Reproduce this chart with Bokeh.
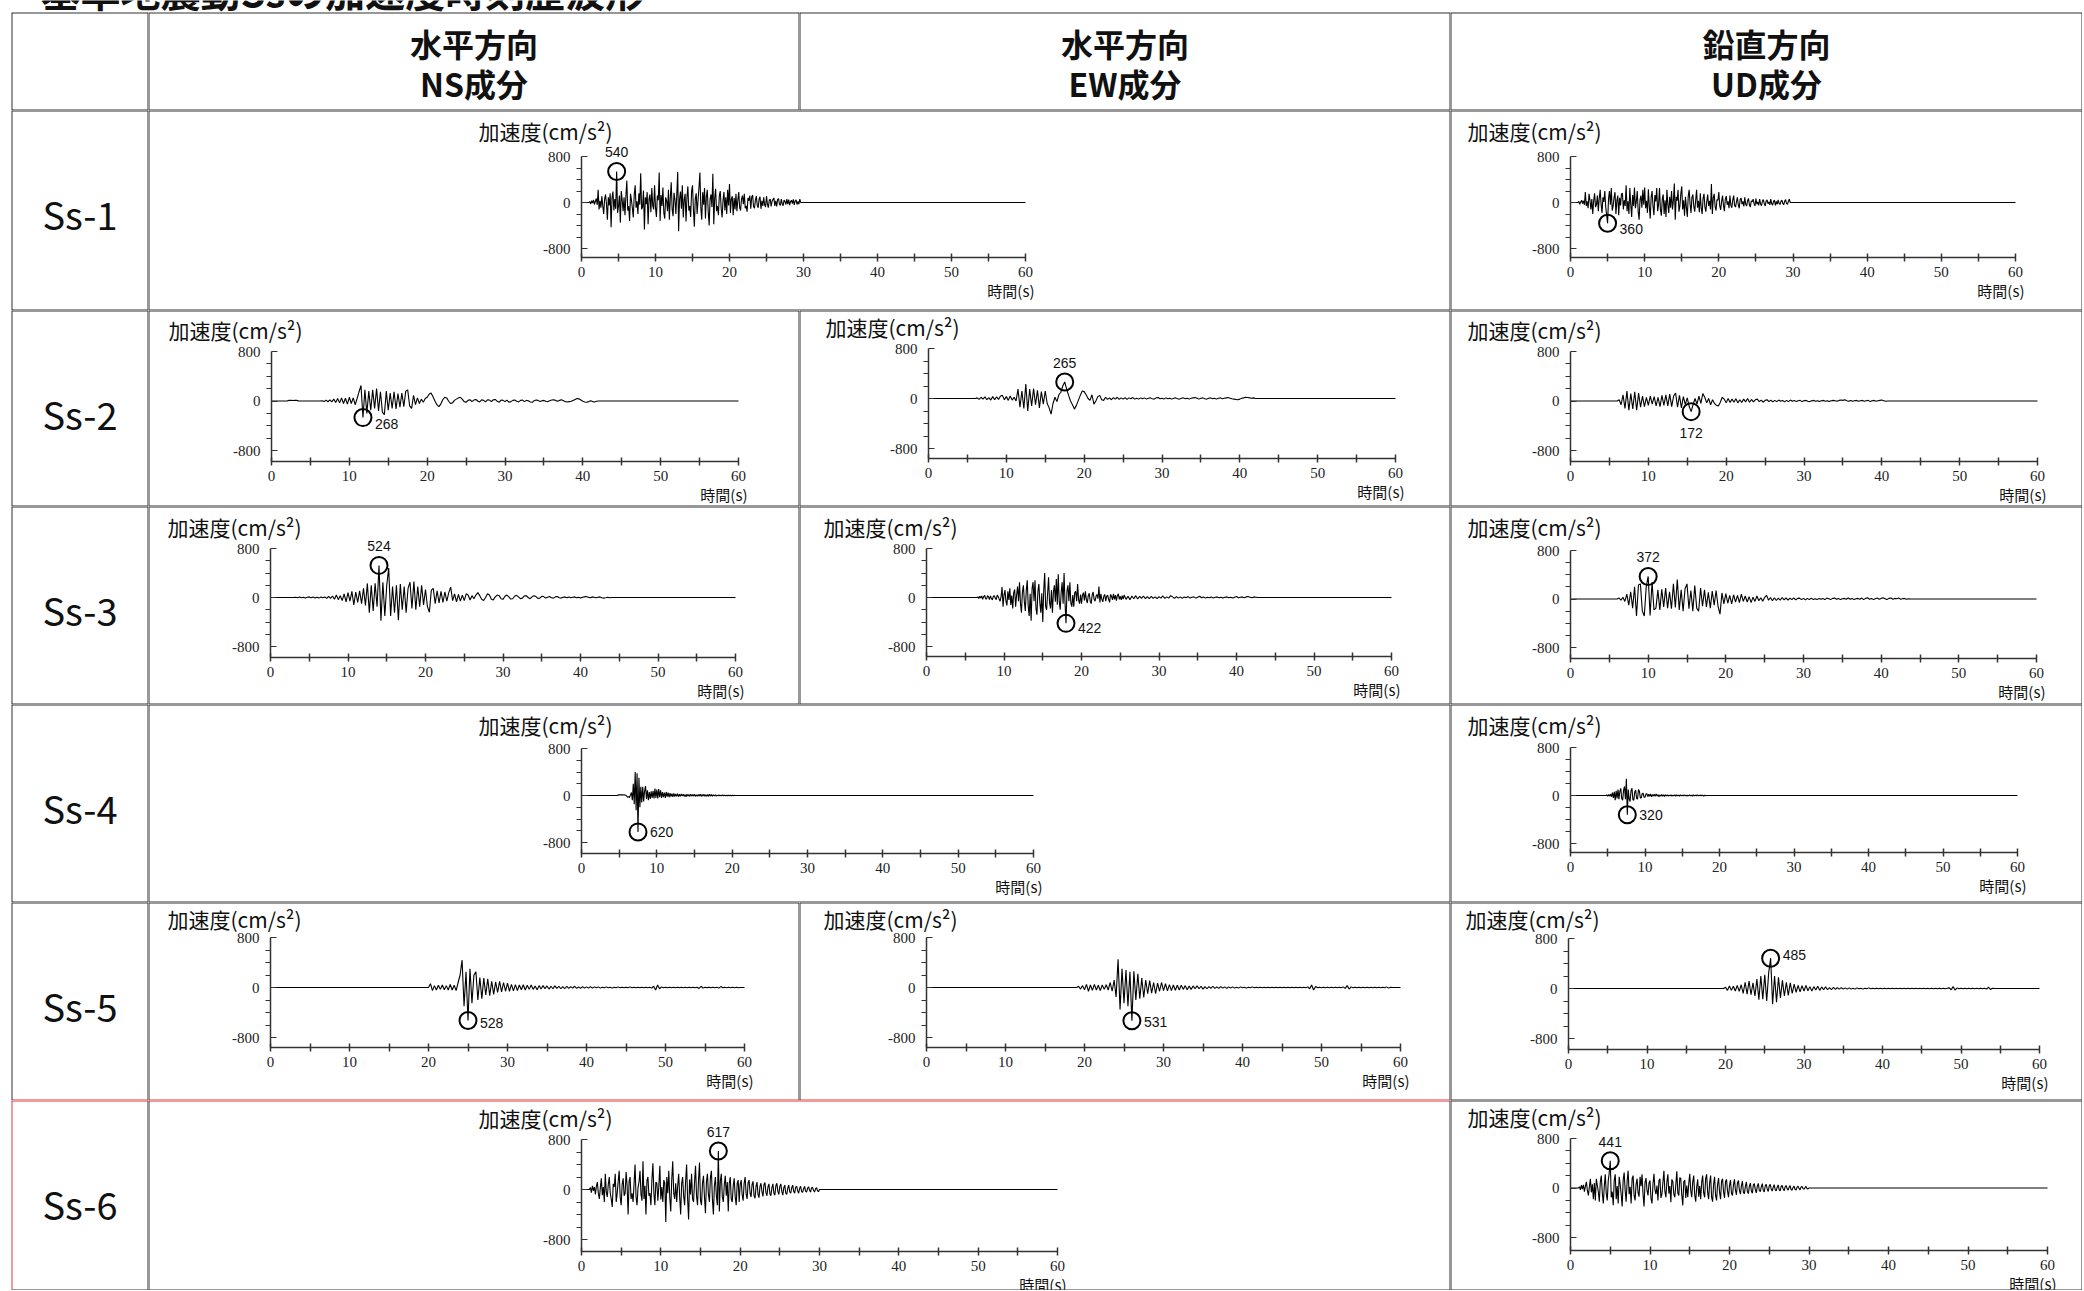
from bokeh.plotting import figure
from bokeh.models import Range1d, LinearAxis, FixedTicker, Span, Row, Column
from bokeh.core.properties import value
from bokeh.embed import file_html
from bokeh.resources import INLINE

# ---------------------------------------------------------------- data
TITLE = "基準地震動Ssの加速度時刻歴波形"
COL_HEAD_1 = ["水平方向", "水平方向", "鉛直方向"]
COL_HEAD_2 = ["NS成分", "EW成分", "UD成分"]
ROW_LABELS = ["Ss-1", "Ss-2", "Ss-3", "Ss-4", "Ss-5", "Ss-6"]
Y_LABEL = "加速度(cm/s²)"
X_LABEL = "時間(s)"
X_TICKS = [0, 10, 20, 30, 40, 50, 60]
X_MINOR = [5, 15, 25, 35, 45, 55]
Y_TICKS = [-800, 0, 800]
Y_MINOR = [-600, -400, -200, 200, 400, 600]

# acceleration samples (cm/s^2); start time t0 and step dt in seconds
ss1_h_t0, ss1_h_dt = 1.0, 0.125
ss1_h = [0, 15, -25, 30, -10, 45, -35, 20,
         70, -40, 220, -120, 30, -90, 110, -60,
         -200, 60, 140, -30, -300, 90, -50, 160,
         -430, 80, 190, -140, 60, -110, 540, -180,
         -60, 120, -350, 200, 40, -150, 90, -220,
         110, 380, -140, -60, -320, 150, 40, -100,
         -260, 130, 300, -90, 20, -200, 160, -40,
         510, -120, -80, 210, -470, 90, -30, 180,
         -380, 60, 140, -170, 250, -50, -120, 300,
         -90, -250, 120, 40, 520, -320, 130, -60,
         260, -180, -280, 90, 30, -150, 220, -300,
         80, 350, -120, -240, 170, 50, -200, 130,
         530, -500, 60, 190, -110, 300, -260, 40,
         150, -330, 90, 280, -140, -60, -250, 190,
         300, -120, -420, 70, 160, -200, 40, 260,
         520, -90, -300, 180, -40, 250, -280, 100,
         220, -160, -400, 60, 140, -80, 500, -380,
         80, 240, -150, -60, -220, 120, 200, -100,
         -260, 40, 180, -140, 90, -200, 220, -50,
         320, -180, 60, 110, -220, 80, -120, 150,
         -150, 40, 180, -90, -140, 60, 120, -30,
         150, -100, -60, -160, 80, 30, 120, -110,
         90, 130, -70, -100, 40, 110, -50, -90,
         60, 100, -110, 30, -60, 90, -40, -80,
         110, -30, -90, 40, 60, -70, 20, 50,
         80, -60, 30, -70, 50, 70, -30, -50,
         60, -20, -55, 40, 20, -35, 60, -30,
         50, -45, 15, 40, -20, 55, -40, 25,
         45, -35, 20, -30, 60, 0]
ss1_h_peak = (4.75, 540)

ss1_ud_t0, ss1_ud_dt = 1.0, 0.125
ss1_ud = [0, 20, -30, 10, 40, -20, 30, -40,
          180, -60, 20, -100, 150, 40, -120, 60,
          -200, 30, 160, -80, -40, 120, -150, 70,
          220, -30, -180, 90, 10, 200, -80, -220,
          -360, 60, 200, -40, 250, -140, -60, 90,
          180, -200, 30, 120, -220, 80, -50, 150,
          160, -120, 40, -60, 300, -150, 20, -200,
          250, -40, -250, 130, -60, 260, -100, 20,
          200, -160, -300, 50, 120, -90, 220, -40,
          260, -100, 30, -180, 230, -60, -280, 90,
          200, -60, -220, 130, 20, 250, -150, -40,
          250, -120, -230, 60, 140, -200, 40, -250,
          220, -40, -180, 100, -90, 200, -120, 30,
          330, -300, 100, 30, 220, -160, -60, 150,
          280, -120, 40, -230, 100, -80, -250, 110,
          220, -30, -180, 90, 140, -70, -160, 40,
          220, -90, 30, -170, 160, -100, -200, 70,
          150, -80, -160, 20, 140, -60, 30, -120,
          320, -200, 80, 150, -70, -140, 50, 40,
          180, -60, -130, 20, 120, -50, -150, 60,
          110, -40, 20, -100, 120, -50, -90, 40,
          120, -50, -80, 10, 90, -40, -100, 50,
          80, -30, 20, -70, 90, -30, -60, 30,
          70, -40, -80, 30, 10, 60, -20, -60,
          70, -30, 10, -50, 60, -25, -55, 25,
          50, -20, -60, 25, 45, -20, 10, -40,
          60, -20, -45, 20, 40, -50, 20, -30,
          45, -15, -35, 20, 40, -15, -40, 20,
          50, -15, -30, 20, 60, 0]
ss1_ud_peak = (5.0, -360)

ss2_ns_t0, ss2_ns_dt = 2.0, 0.25
ss2_ns = [0, 10, 12, 8, 12, 10, 0, 0, 0, 0, 0, 0, 0, 0, 0, 0, 0, 0, 5, -10,
          15, -12, 20, -15, 30, -25, 40, -30, 50, -40, 45, -50, 60, -40, 50, -60, 40, 150, 250, -268,
          180, -200, 160, -150, 180, -120, 200, -160, 150, -180, -220, 160, -150, 130, -120, 150, -130, 120, -100, 130,
          -90, 160, 180, -80, -120, 90, -60, 50, -40, 30, -20, 40, 60, 110, 130, 70, 0, -60, -90, -50,
          20, 60, 50, 0, -40, -30, 10, 30, 50, 60, 30, -10, -20, 10, 20, -10, 15, 25, 0, -15,
          20, 10, -15, 20, 15, -10, 20, 25, -5, -20, 15, 10, -10, 15, -20, -10, 10, 15, -5, -15,
          10, 15, -10, 10, 5, -15, -20, 5, 15, 10, -10, 5, 10, -5, -10, 5, 15, 20, 10, -5,
          10, 20, 5, -10, -15, -10, -5, 10, 25, 40, 35, 15, -5, -15, -20, -10, 5, -10, -15, -5, 0]
ss2_ns_peak = (11.75, -268)

ss2_ew_t0, ss2_ew_dt = 6.0, 0.25
ss2_ew = [0, 10, -15, 20, -10, 25, -20, 15, -25, 30, -20, 25, -15, 40, 50, -20, 30, -30, 40, -25,
          20, -40, 150, -140, 120, -160, 230, -200, 150, -120, 160, -100, 130, -150, 110, -90, 120, -80, -150, -250,
          -80, 20, -50, 60, 100, 200, 265, 150, 50, -40, -100, -170, -110, -30, 50, 120, 110, 60, 0, -30,
          60, -90, -40, 30, 50, -20, -30, 20, -15, 10, -20, 15, -10, 20, -15, 10, -10, 15, -15, 10,
          -5, 15, -10, 5, -10, 10, -5, 10, -10, 5, 10, -5, -10, 10, 15, -5, 5, -10, 10, -5,
          5, -10, 5, 10, -5, -10, 5, 10, -5, 5, -10, 5, 10, 15, 5, -10, 5, 10, -5, -10,
          5, 10, -5, 5, -10, 5, 10, -5, 5, 10, 15, 5, -5, -10, -15, -20, -10, 5, 10, 20,
          15, 10, 5, 10, 0]
ss2_ew_peak = (17.5, 265)

ss2_ud_t0, ss2_ud_dt = 6.0, 0.25
ss2_ud = [0, 20, -60, 100, -120, 160, -150, 120, -130, 150, -150, 130, -100, 80, -90, 60, -70, 80, -50, 70,
          -80, 60, -90, 90, -70, 100, -80, 110, -90, 80, 130, -100, 90, -110, 70, -60, 50, -90, -172, -60,
          40, -50, 80, -40, 120, 60, -30, 40, -60, 20, -40, -70, -80, -20, 60, 30, -30, 40, -25, 30,
          -20, 35, -30, 20, -25, 30, -15, 40, -20, 25, -15, 20, 30, -10, 15, -20, 10, 20, -10, 15,
          -15, 10, -10, 15, -5, 10, -15, 10, -10, 15, -5, 10, -10, 5, 10, -10, 5, 10, -5, -10,
          5, 10, -5, 5, -10, 5, 10, -5, 5, -10, 5, 10, 5, -5, 10, 15, 10, 20, 5, -5,
          10, -5, 5, 10, -5, 5, 10, -5, 5, 10, -10, 5, 10, -5, 5, 10, 15, 5, -5, 0]
ss2_ud_peak = (15.5, -172)

ss3_ns_t0, ss3_ns_dt = 3.0, 0.25
ss3_ns = [0, 5, -5, 8, -5, 5, -8, 5, 10, -5, 8, -8, 5, -10, 8, -5, 10, -15, 20, -15,
          25, -30, 40, -35, 30, -50, 60, -70, 80, -60, 100, -120, 90, -80, 110, -100, 150, -130, 230, -250,
          200, -220, 230, -150, 524, -380, 250, -300, 200, 480, -300, 180, -250, 200, -370, 220, -200, 180, -250, 150,
          250, -180, 260, -200, 180, -150, 200, -120, 130, -150, -240, 120, 150, -100, 110, -90, 100, -80, 90, -60,
          80, 170, -50, 60, -70, 50, -60, 40, -50, 60, 40, -40, 30, -20, 40, 80, 30, -30, -50, 0,
          60, 40, -30, -40, 10, 40, 30, -20, -30, 20, 40, 10, -25, -20, 20, 35, 10, -20, -10, 25,
          30, 0, -20, 10, 30, 15, -15, -10, 20, 15, -10, 5, 15, -5, -10, 10, 15, -5, -10, 5,
          10, -5, 10, -5, 5, 10, -5, 5, -10, 5, 10, 15, 5, -5, 10, 5, -5, 5, 10, -5,
          -10, -5, 5, -5, 0]
ss3_ns_peak = (14.0, 524)

# Ss-3 EW: strong part sampled at 0.125 s, coda at 0.25 s
ss3_ew_t0, ss3_ew_dt = 6.5, 0.125
ss3_ew = [0, 10, -15, 20, -10, 25, -30, 15,
          35, -20, -25, 30, 10, -35, 25, -15,
          -40, 20, 30, -10, -35, 40, 15, -25,
          -60, 20, 170, -150, 40, 120, -60, -130,
          100, -40, 150, -120, 30, -180, 80, 130,
          -150, 40, 180, -60, 250, -100, -250, 90,
          200, -70, -220, 120, 280, -140, -300, 60,
          -380, 150, 250, -60, 280, -180, -280, 100,
          220, -90, -250, 70, -400, 120, 400, -150,
          -200, 60, 330, -80, -180, 120, -250, 90,
          200, -70, 300, -120, 380, -60, -200, 80,
          250, -100, 400, -90, -422, 100, 200, -60,
          250, -90, -150, 40, -150, 80, 100, -60,
          220, -40, -100, 50, -100, 40, 80, -50,
          100, -30, -90, 30, 70, -60, -100, 40,
          90, -30, -60, 20, 50, -20, 180, -80,
          60, -30, -70, 20, 50, -60, 20, 40,
          -30, -80, 50, 20, -40, 60, -30, 40,
          -50, 30, 60, -30, 20, -40, 30, -25]
ss3_ew_coda_t0, ss3_ew_coda_dt = 25.5, 0.25
ss3_ew_coda = [40, -30, 20, -35, 25, -20, 30, -25, 20, -15, 25, -20, 15, -20, 20, -15, 10, -20, 15, -10,
               25, -15, 10, -10, 30, 10, -15, 15, -10, 10, -15, 10, -5, 15, -10, 5, 10, -10, 5, 20,
               -5, 10, -10, 5, -5, 10, -10, 5, 10, -5, 5, -10, 5, 10, -5, 5, -10, 5, 15, -5,
               5, 10, -5, 10, 15, 5, -5, 10, 5, 0]
ss3_ew_peak = (18.0, -422)

ss3_ud_t0, ss3_ud_dt = 6.0, 0.25
ss3_ud = [0, 15, -20, 30, -40, 80, -100, 120, -150, 200, -280, 230, 250, -200, -280, 200, 372, -270, 280, -180,
          -150, 150, -180, 160, -130, 180, -150, 120, -160, 250, -140, 320, -180, 150, -200, 170, 250, -160, 140, -200,
          220, -150, -200, 180, -120, 150, -130, 110, -150, 130, -100, 140, -120, -250, 100, -80, 90, -70, 60, -80,
          70, -50, 60, -60, 80, -40, 50, -50, 40, -60, 30, -40, 50, -30, 20, -35, 25, 60, -20, 25,
          -30, 20, -25, 15, -20, 25, -15, 20, -20, 15, -10, 20, -15, 10, 15, -10, 10, -15, 10, -10,
          15, -10, 5, -10, 10, -5, 10, -10, 15, 5, -10, 10, 15, -5, 10, -10, 5, 10, -5, 15,
          -5, 10, -10, 5, 10, -5, 15, -10, 10, 20, -5, 10, -10, 5, 15, -5, 10, 20, 5, -10,
          10, 15, -5, 10, 5, 15, -5, 5, 10, -5, 5, 0]
ss3_ud_peak = (10.0, 372)

ss4_h_t0, ss4_h_dt = 4.75, 0.125
ss4_h = [0, 10, 12, 10, 12, 10, 12, 8, 10, 5, -10, -30, -20, -35, 10, 50, -80, 200, -150, 400,
         -250, 380, -620, 300, -200, 150, -120, 150, -100, 80, 160, -60, 90, -80, 60, -60, 70, -40, 80, -50,
         120, -40, 100, -50, 110, -30, 90, -40, 60, -30, 50, -40, 60, -20, 50, -30, 40, -20, 30, -25,
         35, -20, 25, -15, 30, -20, 20, -15, 25, -10, 20, -15, 15, -20, 20, -10, 15, -15, 20, -10,
         15, -10, 20, -15, 10, -10, 15, -10, 20, -15, 15, -10, 20, -15, 10, -10, 15, -15, 20, -10,
         15, -10, 10, -5, 10, -10, 5, -5, 10, -5, 5, -5, 10, -5, 5, -5, 5, -5, 5, -5,
         5, -5, 5, -5, 5, 0, 0]
ss4_h_peak = (7.5, -620)

ss4_ud_t0, ss4_ud_dt = 4.75, 0.125
ss4_ud = [0, 10, -10, 15, -10, 20, -20, 50, -40, 60, -80, 80, -50, 100, -60, 70, 120, -50, -80, 90,
          150, -60, 280, -320, 100, -60, -100, 80, 120, -70, -80, 60, 90, -50, -60, 100, 70, -40, -40, 30,
          40, -30, -30, 25, 30, -20, 20, -15, 25, -20, 15, -10, 20, -15, 25, -10, 15, -20, 10, -10,
          15, -10, 10, -15, 10, -5, 10, -10, 5, -5, 10, -10, 5, -5, 10, -10, 10, -5, 5, -10,
          10, -5, 5, -5, 10, -5, 5, -10, 5, -5, 10, -5, 5, -10, 10, -5, 5, -5, 10, -5,
          5, -5, 10, -5, 5, -10, 5, -5, 0]
ss4_ud_peak = (7.625, -320)

ss5_ns_t0, ss5_ns_dt = 20.0, 0.25
ss5_ns = [0, 60, -50, 30, -40, 35, -30, 40, -35, 30, -40, 50, -40, 35, -50, 80, 200, 440, -300, 250,
          -528, 300, -250, 200, 250, -200, 160, -180, 150, -120, 140, -130, 100, -110, 90, -80, 100, -70, 80, -60,
          70, -60, 50, -55, 45, -50, 40, -35, 45, -40, 35, -30, 40, -30, 25, -35, 30, -25, 30, -20,
          25, -25, 20, -20, 25, -15, 20, -20, 15, -20, 20, -15, 15, -10, 20, -15, 10, -15, 15, -10,
          10, -10, 15, -10, 10, -5, 10, -10, 5, -5, 10, -5, 5, -10, 5, -5, 10, -5, 5, -5,
          5, -5, 10, -5, 5, -5, 5, -5, 5, -5, 5, -5, 5, -10, 20, -40, 40, -20, 10, -5,
          5, -5, 5, -5, 5, -5, 5, -5, 5, -5, 5, -5, 5, -5, 5, -5, 5, -15, 20, -10,
          5, -5, 5, -5, 5, -5, 5, -10, 15, -5, 5, -5, 5, -5, 5, -5, 5, -5, 0]
ss5_ns_peak = (25.0, -528)

ss5_ew_t0, ss5_ew_dt = 19.0, 0.25
ss5_ew = [0, 20, -25, 30, -35, 50, -60, 40, -45, 50, -40, 35, -50, 40, -30, 45, -40, 80, -60, 120,
          -150, 450, -350, 300, -250, 280, -300, 250, -531, 260, -200, 220, -180, 150, -160, 120, -100, 110, -90, 80,
          -100, 70, -60, 80, -50, 60, -55, 45, -50, 40, -45, 35, -40, 35, -30, 30, -35, 25, -30, 25,
          -20, 25, -20, 20, -25, 15, -20, 15, -15, 20, -15, 10, -15, 15, -10, 10, -15, 10, -10, 10,
          -10, 5, -10, 10, -5, 5, -10, 5, -5, 10, -5, 5, -5, 5, -5, 5, -5, 5, -5, 5,
          -5, 5, -5, 5, -5, 5, -5, 5, -5, 5, -5, 5, -5, 5, -5, 5, -5, 10, -20, 40,
          -40, 15, -5, 5, -5, 5, -5, 5, -5, 5, -5, 5, -5, 5, -5, 10, -15, 30, -25, 10,
          -5, 5, -5, 5, -5, 5, -5, 5, -5, 5, -5, 5, -5, 5, -5, 5, -5, 10, -10, 5, 0]
ss5_ew_peak = (26.0, -531)

ss5_ud_t0, ss5_ud_dt = 19.75, 0.25
ss5_ud = [0, 20, -30, 40, -30, 35, -40, 50, -45, 60, -80, 100, -90, 120, -100, 90, -120, 150, -180, 200,
          -170, 220, -200, 250, 485, -250, 200, -220, 180, -150, 130, -120, 100, -110, 90, -80, 70, -60, 50, -55,
          45, -40, 50, -35, 30, -40, 30, -25, 35, -30, 25, -20, 25, -20, 15, -20, 20, -15, 15, -10,
          15, -10, 10, -10, 10, -10, 5, -10, 10, -5, 5, -10, 5, -5, 10, -5, 5, -5, 5, -5,
          5, -5, 5, -5, 5, -5, 5, -5, 5, -5, 5, -5, 5, -5, 5, -5, 5, -5, 5, -5,
          5, -5, 5, -5, 5, -5, 5, -5, 5, -5, 5, -5, 5, -5, 5, 10, -20, 30, -25, 10,
          -5, 5, -5, 5, -5, 5, -5, 5, -5, 5, -5, 5, -5, 5, -10, 20, -15, 5, 0]
ss5_ud_peak = (25.75, 485)

ss6_h_t0, ss6_h_dt = 1.0, 0.125
ss6_h = [0, 30, -50, 60, -20, 40, -80, 50,
         120, -60, -150, 30, 180, -90, 40, -200,
         250, -40, -120, 80, 200, -60, -150, -280,
         90, 40, 250, -200, -60, 130, 300, -120,
         -250, 80, 180, -100, -60, 280, 60, -400,
         130, 200, -150, -60, -200, 90, 400, -120,
         -250, 30, 120, 300, -80, -180, 450, -150,
         60, -400, 140, 200, -100, -60, -250, 150,
         420, -60, -250, 120, 100, -180, 60, 380,
         -160, 40, -200, 150, 100, -520, 200, -60,
         300, -120, -350, 160, 450, -60, -150, 100,
         -200, 60, 250, -120, -400, 100, 200, -100,
         -250, 140, 400, -150, -480, 160, -80, 250,
         -150, -200, 120, 380, -100, -250, 150, 430,
         -180, -250, 100, 220, -120, -380, 120, 250,
         -80, -200, 190, 300, -150, -400, 60, 200,
         -100, -250, 617, -350, 130, 250, -120, -200,
         80, 220, -100, 120, -350, 100, 200, -150,
         -200, 60, 180, -120, -250, 100, 150, -200,
         80, 150, -80, -180, 100, 200, -70, -150,
         110, 150, -60, -120, 80, 130, -100, -140,
         50, 120, -80, -130, 50, 100, -40, -110,
         80, 110, -50, -100, 40, 90, -70, -100,
         30, 90, -60, -90, 60, 100, -30, -80,
         50, 90, -30, -90, 30, 70, -60, -80,
         20, 70, -40, -60, 30, 70, -30, -60,
         40, 50, -20, -60, 20, 50, -35, -45,
         15, 50, -30, -40, 20, 45, -15, -40,
         25, 35, -15, -40, 10, 30, -20, -35,
         0]
ss6_h_peak = (17.25, 617)

ss6_ud_t0, ss6_ud_dt = 1.0, 0.125
ss6_ud = [0, 20, -30, 45, -20, 50, -60, 30,
          100, -40, -120, 20, 150, -70, 60, -180,
          80, -200, 150, 40, -60, -220, 100, 200,
          -80, -250, 30, 220, -90, -200, 120, 250,
          441, -150, -60, -280, 120, 220, -180, 30,
          -250, 180, 60, -100, -300, 130, 250, -40,
          -220, 110, 280, -100, 20, -250, 150, 200,
          -120, -200, 60, 150, -80, -140, 180, 30,
          220, -100, -300, 90, 160, -40, -120, 80,
          120, -170, -250, 60, 230, -30, -100, 40,
          -200, 120, 150, -160, -100, 90, 280, -60,
          -150, 100, 220, -90, 30, -230, 140, 100,
          -100, -150, 60, 270, -80, -120, 170, 150,
          -120, -280, 100, 130, -160, 40, -150, 70,
          230, -40, -150, 100, 200, -110, -220, 20,
          140, -140, 30, -180, 90, 200, -80, -150,
          150, 220, -70, -180, 80, 200, -150, -220,
          60, 180, -120, -200, 60, 160, -70, -180,
          110, 150, -60, -160, 100, 140, -50, -150,
          40, 130, -90, -120, 50, 140, -40, -110,
          80, 120, -40, -100, 40, 110, -70, -90,
          30, 100, -60, -90, 30, 80, -50, -85,
          50, 70, -30, -80, 30, 75, -40, -60,
          20, 70, -40, -65, 40, 60, -20, -55,
          35, 60, -20, -50, 15, 55, -30, -45,
          15, 50, -30, -45, 25, 40, -15, -45,
          20, 40, -10, -35, 10, 40, -25, -35,
          10, 30, -20, -35, 15, 30, -10, -30,
          15, 25, -10, -20, 5, 25, -10, -15,
          0]
ss6_ud_peak = (5.0, 441)

# ---------------------------------------------------------------- layout / styling
FONT_JP = "Noto Sans CJK JP"
LINE_COL = "#333333"
RED = "#e0393e"

LEFT_PAD = 11
COL_W = [137, 651, 651, 632]
MERGED_W = COL_W[1] + COL_W[2]
TITLE_H = 12
HEAD_H = 98
ROW_H = [200, 196, 198, 198, 198, 190]
TOTAL_W = sum(COL_W) + LEFT_PAD

# pixel geometry inside each cell: x of t=0, x of t=60, y of +800, y of -800, y of time axis
GEO = {
    "ss1_h": (433, 877, 46, 138, 147), "ss1_ud": (120, 565, 46, 138, 147),
    "ss2_ns": (123, 590, 41, 140, 151), "ss2_ew": (129, 596, 38, 138, 148), "ss2_ud": (120, 587, 41, 140, 151),
    "ss3_ns": (122, 587, 42, 140, 151), "ss3_ew": (127, 592, 42, 140, 150), "ss3_ud": (120, 586, 44, 141, 152),
    "ss4_h": (433, 885, 44, 138, 149), "ss4_ud": (120, 567, 43, 139, 148),
    "ss5_ns": (122, 596, 35, 135, 145), "ss5_ew": (127, 601, 35, 135, 145), "ss5_ud": (118, 589, 36, 136, 147),
    "ss6_h": (433, 909, 39, 139, 151), "ss6_ud": (120, 597, 38, 137, 150),
}
# where the peak value text sits relative to its circle: (mode, extra dy px)
PEAK_TXT = {
    "ss1_h": ("above", 0), "ss1_ud": ("right", 6), "ss2_ns": ("right", 6), "ss2_ew": ("above", 0),
    "ss2_ud": ("below", 0), "ss3_ns": ("above", 0), "ss3_ew": ("right", 5), "ss3_ud": ("above", 0),
    "ss4_h": ("right", 0), "ss4_ud": ("right", 0), "ss5_ns": ("right", 2), "ss5_ew": ("right", 1),
    "ss5_ud": ("right", -3), "ss6_h": ("above", 0), "ss6_ud": ("above", 0),
}

# each trace: list of sampled segments (t0, dt, values) and its marked peak (t, value)
WAVES = {
    "ss1_h": ([(ss1_h_t0, ss1_h_dt, ss1_h)], ss1_h_peak),
    "ss1_ud": ([(ss1_ud_t0, ss1_ud_dt, ss1_ud)], ss1_ud_peak),
    "ss2_ns": ([(ss2_ns_t0, ss2_ns_dt, ss2_ns)], ss2_ns_peak),
    "ss2_ew": ([(ss2_ew_t0, ss2_ew_dt, ss2_ew)], ss2_ew_peak),
    "ss2_ud": ([(ss2_ud_t0, ss2_ud_dt, ss2_ud)], ss2_ud_peak),
    "ss3_ns": ([(ss3_ns_t0, ss3_ns_dt, ss3_ns)], ss3_ns_peak),
    "ss3_ew": ([(ss3_ew_t0, ss3_ew_dt, ss3_ew), (ss3_ew_coda_t0, ss3_ew_coda_dt, ss3_ew_coda)], ss3_ew_peak),
    "ss3_ud": ([(ss3_ud_t0, ss3_ud_dt, ss3_ud)], ss3_ud_peak),
    "ss4_h": ([(ss4_h_t0, ss4_h_dt, ss4_h)], ss4_h_peak),
    "ss4_ud": ([(ss4_ud_t0, ss4_ud_dt, ss4_ud)], ss4_ud_peak),
    "ss5_ns": ([(ss5_ns_t0, ss5_ns_dt, ss5_ns)], ss5_ns_peak),
    "ss5_ew": ([(ss5_ew_t0, ss5_ew_dt, ss5_ew)], ss5_ew_peak),
    "ss5_ud": ([(ss5_ud_t0, ss5_ud_dt, ss5_ud)], ss5_ud_peak),
    "ss6_h": ([(ss6_h_t0, ss6_h_dt, ss6_h)], ss6_h_peak),
    "ss6_ud": ([(ss6_ud_t0, ss6_ud_dt, ss6_ud)], ss6_ud_peak),
}


def base_fig(w, h, xr, yr):
    return figure(width=w, height=h, x_range=xr, y_range=yr, output_backend="svg",
                  toolbar_location=None, x_axis_type=None, y_axis_type=None, title=None,
                  min_border=0, outline_line_color=None,
                  background_fill_color="white", border_fill_color="white")


def borders(p, xr, yr, top=LINE_COL, bottom=LINE_COL, left=LINE_COL, right=LINE_COL):
    for loc, dim, col in [(yr.end, "width", top), (yr.start, "width", bottom),
                          (xr.start, "height", left), (xr.end, "height", right)]:
        if col:
            p.add_layout(Span(location=loc, dimension=dim, line_color=col, line_width=2))


def text_cell(w, h, lines, size, bold=False, **bkw):
    xr, yr = Range1d(0, w), Range1d(0, h)
    p = base_fig(w, h, xr, yr)
    for txt, ypix in lines:
        p.text(x=[w / 2], y=[h - ypix], text=[txt], text_align="center", text_baseline="middle",
               text_font=value(FONT_JP), text_font_size=f"{size}px",
               text_font_style="bold" if bold else "normal", text_color="#111111")
    borders(p, xr, yr, **bkw)
    return p


def wave_cell(key, w, h, **bkw):
    segments, (pk_t, pk_v) = WAVES[key]
    x0, x60, y800, ym800, yax = GEO[key]
    pps = (x60 - x0) / 60.0
    upp = 1600.0 / (ym800 - y800)
    xr = Range1d(-x0 / pps, (w - x0) / pps)
    yr = Range1d(800 - (h - y800) * upp, 800 + y800 * upp)
    p = base_fig(w, h, xr, yr)
    yax_val = 800 - (yax - y800) * upp

    xa = LinearAxis(fixed_location=yax_val, bounds=(0, 60),
                    ticker=FixedTicker(ticks=X_TICKS, minor_ticks=X_MINOR),
                    axis_line_color=LINE_COL, axis_line_width=1.5,
                    major_tick_in=4, major_tick_out=4, minor_tick_in=4, minor_tick_out=4,
                    major_tick_line_color=LINE_COL, minor_tick_line_color=LINE_COL,
                    major_tick_line_width=1.5, minor_tick_line_width=1.5,
                    major_label_standoff=5, major_label_text_font="Liberation Serif",
                    major_label_text_font_size="15px", major_label_text_color="#222222")
    p.add_layout(xa, "below")
    ya = LinearAxis(fixed_location=0, bounds=(yax_val, 800),
                    ticker=FixedTicker(ticks=Y_TICKS, minor_ticks=Y_MINOR),
                    major_label_overrides={-800: "-800", 0: "0", 800: "800"},
                    axis_line_color=LINE_COL, axis_line_width=1.5,
                    major_tick_in=6, major_tick_out=0, minor_tick_in=0, minor_tick_out=5,
                    major_tick_line_color=LINE_COL, minor_tick_line_color=LINE_COL,
                    major_tick_line_width=1.2, minor_tick_line_width=1.2,
                    major_label_standoff=6, major_label_text_font="Liberation Serif",
                    major_label_text_font_size="15px", major_label_text_color="#222222")
    p.add_layout(ya, "left")

    t, a = [0.0], [0]
    for s_t0, s_dt, vals in segments:
        t += [s_t0 + i * s_dt for i in range(len(vals))]
        a += list(vals)
    t.append(60.0)
    a.append(0)
    p.line(t, a, line_color="black", line_width=1.1)

    p.scatter(x=[pk_t], y=[pk_v], marker="circle", size=17, fill_color=None,
              line_color="black", line_width=2)
    mode, dy = PEAK_TXT[key]
    if mode == "above":
        xo, yo, al = 0, -19 + dy, "center"
    elif mode == "below":
        xo, yo, al = 0, 21 + dy, "center"
    else:
        xo, yo, al = 12, dy, "left"
    p.text(x=[pk_t], y=[pk_v], text=[str(abs(pk_v))], x_offset=xo, y_offset=yo,
           text_align=al, text_baseline="middle", text_font=value("Liberation Sans"),
           text_font_size="14px", text_color="#111111")

    lab_y = max(min(y800 - 22, 20), 16)
    p.text(x=[-103 / pps], y=[800 + (y800 - lab_y) * upp], text=[Y_LABEL], text_align="left",
           text_baseline="middle", text_font=value(FONT_JP), text_font_size="21px",
           text_color="#111111")
    p.text(x=[60 + 9 / pps], y=[yax_val - 33 * upp], text=[X_LABEL], text_align="right",
           text_baseline="middle", text_font=value(FONT_JP), text_font_size="15px",
           text_color="#111111")
    borders(p, xr, yr, **bkw)
    return p


# title strip (cut off at the top edge, as in the source page)
title_fig = base_fig(TOTAL_W, TITLE_H, Range1d(0, TOTAL_W), Range1d(0, TITLE_H))
title_fig.text(x=[40], y=[23], text=[TITLE], text_align="left", text_baseline="alphabetic",
               text_font=value(FONT_JP), text_font_size="40px", text_font_style="bold",
               text_color="#111111")

header = Row(children=[
    text_cell(COL_W[0], HEAD_H, [], 30),
    text_cell(COL_W[1], HEAD_H, [(COL_HEAD_1[0], 30), (COL_HEAD_2[0], 70)], 32, bold=True),
    text_cell(COL_W[2], HEAD_H, [(COL_HEAD_1[1], 30), (COL_HEAD_2[1], 70)], 32, bold=True),
    text_cell(COL_W[3], HEAD_H, [(COL_HEAD_1[2], 30), (COL_HEAD_2[2], 70)], 32, bold=True),
])


def label_cell(i, **bkw):
    h = ROW_H[i]
    return text_cell(COL_W[0], h, [(ROW_LABELS[i], 103)], 38, **bkw)


rows = [
    Row(children=[label_cell(0), wave_cell("ss1_h", MERGED_W, ROW_H[0]), wave_cell("ss1_ud", COL_W[3], ROW_H[0])]),
    Row(children=[label_cell(1), wave_cell("ss2_ns", COL_W[1], ROW_H[1]), wave_cell("ss2_ew", COL_W[2], ROW_H[1]),
                  wave_cell("ss2_ud", COL_W[3], ROW_H[1])]),
    Row(children=[label_cell(2), wave_cell("ss3_ns", COL_W[1], ROW_H[2]), wave_cell("ss3_ew", COL_W[2], ROW_H[2]),
                  wave_cell("ss3_ud", COL_W[3], ROW_H[2])]),
    Row(children=[label_cell(3), wave_cell("ss4_h", MERGED_W, ROW_H[3]), wave_cell("ss4_ud", COL_W[3], ROW_H[3])]),
    Row(children=[label_cell(4, bottom=RED), wave_cell("ss5_ns", COL_W[1], ROW_H[4], bottom=RED),
                  wave_cell("ss5_ew", COL_W[2], ROW_H[4], bottom=RED), wave_cell("ss5_ud", COL_W[3], ROW_H[4])]),
    Row(children=[label_cell(5, top=RED, left=RED), wave_cell("ss6_h", MERGED_W, ROW_H[5], top=RED),
                  wave_cell("ss6_ud", COL_W[3], ROW_H[5])]),
]

table = Column(children=[header] + rows, margin=(0, 0, 0, LEFT_PAD))
root = Column(children=[title_fig, table])

open("out.html", "w").write(file_html(root, INLINE))
